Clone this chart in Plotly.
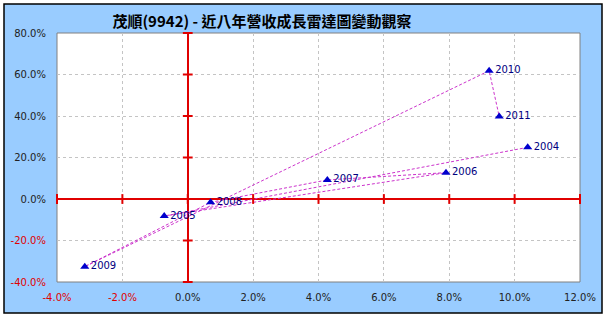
import plotly.graph_objects as go

years = ["2004", "2005", "2006", "2007", "2008", "2009", "2010", "2011"]
x_growth = [10.4, -0.72, 7.9, 4.27, 0.7, -3.15, 9.22, 9.53]   # %
y_growth = [24.9, -8.2, 12.7, 9.2, -1.6, -32.6, 61.8, 39.7]   # %

x_ticks = [-4, -2, 0, 2, 4, 6, 8, 10, 12]
y_ticks = [-40, -20, 0, 20, 40, 60, 80]
title_text = "茂順(9942) - 近八年營收成長雷達圖變動觀察"

def fmt(v):
    s = f"{v:.1f}%"
    if v < 0:
        return f'<span style="color:#E00000">{s}</span>'
    return s

fig = go.Figure()

# path connecting years
fig.add_trace(go.Scatter(
    x=x_growth, y=y_growth, mode="lines",
    line=dict(color="#CC33CC", width=1, dash="3px,2px"),
    hoverinfo="skip", showlegend=False))

# tick marks on red zero axes
fig.add_trace(go.Scatter(
    x=x_ticks, y=[0] * len(x_ticks), mode="markers",
    marker=dict(symbol="line-ns", size=7, line=dict(color="#E00000", width=2)),
    cliponaxis=False, hoverinfo="skip", showlegend=False))
fig.add_trace(go.Scatter(
    x=[0] * len(y_ticks), y=y_ticks, mode="markers",
    marker=dict(symbol="line-ew", size=7, line=dict(color="#E00000", width=2)),
    cliponaxis=False, hoverinfo="skip", showlegend=False))

# year points
fig.add_trace(go.Scatter(
    x=x_growth, y=y_growth, mode="markers+text",
    text=years, textposition="middle right",
    textfont=dict(family="DejaVu Sans", size=10, color="#000080"),
    marker=dict(symbol="triangle-up", size=8, color="#0000CC"),
    cliponaxis=False, showlegend=False))

L, R, T, B = 57, 29, 33, 35
W, H = 609, 317
pw, ph = W - L - R, H - T - B

def px_x(p):
    return (p - L) / pw

def px_y(p):
    return (H - B - p) / ph

fig.update_layout(
    width=W, height=H,
    margin=dict(l=L, r=R, t=T, b=B, pad=0),
    paper_bgcolor="white", plot_bgcolor="white",
    font=dict(family="DejaVu Sans", size=10, color="#222222"),
    title=dict(text=f"<b>{title_text}</b>", x=px_x(262), xref="paper", xanchor="center",
               y=1 - 22 / H, yref="container", yanchor="middle",
               font=dict(family="Noto Sans CJK TC", size=15, color="#000000")),
    shapes=[
        dict(type="rect", xref="paper", yref="paper",
             x0=px_x(4), x1=px_x(602), y0=px_y(313), y1=px_y(4),
             fillcolor="#99CCFF", line=dict(color="#000000", width=1.5), layer="below"),
        dict(type="rect", xref="paper", yref="paper",
             x0=0, x1=1, y0=0, y1=1,
             fillcolor="white", line=dict(color="#808080", width=1), layer="below"),
    ],
    xaxis=dict(range=[-4, 12], tickvals=x_ticks, ticktext=[fmt(v) for v in x_ticks],
               showgrid=True, gridcolor="#C4C4C4", griddash="3px,3px", gridwidth=1,
               zeroline=True, zerolinecolor="#E00000", zerolinewidth=2,
               showline=False, ticks="", ticklabelstandoff=8,
               fixedrange=True),
    yaxis=dict(range=[-40, 80], tickvals=y_ticks, ticktext=[fmt(v) for v in y_ticks],
               showgrid=True, gridcolor="#C4C4C4", griddash="3px,3px", gridwidth=1,
               zeroline=True, zerolinecolor="#E00000", zerolinewidth=2,
               showline=False, ticks="", ticklabelstandoff=10,
               fixedrange=True),
)

fig.write_html("out.html")
